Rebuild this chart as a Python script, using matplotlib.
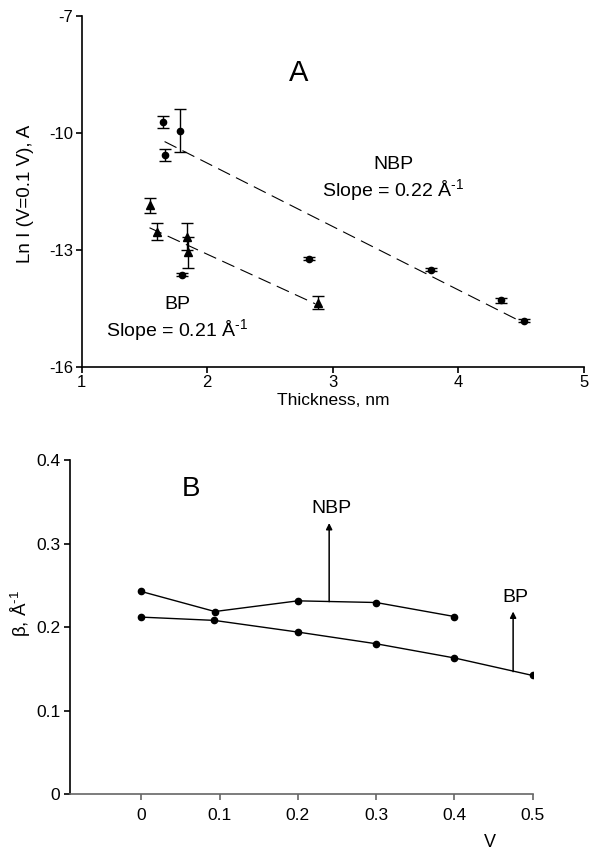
import matplotlib
matplotlib.use("Agg")
import matplotlib.pyplot as plt

plt.rcParams['font.family'] = ['Liberation Sans', 'DejaVu Sans']
plt.rcParams['axes.unicode_minus'] = False
plt.rcParams['mathtext.fontset'] = 'custom'
plt.rcParams['mathtext.rm'] = 'Liberation Sans'
plt.rcParams['mathtext.it'] = 'Liberation Sans'

# panel A: ln I at V=0.1 V versus film thickness
nbp_x = [1.65, 1.78, 1.66, 1.80, 2.81, 3.78, 4.34, 4.52]
nbp_y = [-9.71, -9.94, -10.56, -13.64, -13.22, -13.51, -14.29, -14.81]
nbp_err = [0.15, 0.55, 0.15, 0.04, 0.04, 0.04, 0.06, 0.04]

bp_x = [1.54, 1.60, 1.84, 1.85, 2.88]
bp_y = [-11.85, -12.53, -12.66, -13.06, -14.35]
bp_err = [0.19, 0.21, 0.35, 0.40, 0.17]

nbp_fit_x = [1.66, 4.47]
nbp_fit_y = [-10.22, -14.79]
bp_fit_x = [1.54, 2.86]
bp_fit_y = [-12.43, -14.38]

# panel B: beta versus bias
v_nbp = [0.0, 0.094, 0.2, 0.3, 0.4]
beta_nbp = [0.2426, 0.2186, 0.2314, 0.2294, 0.2126]
v_bp = [0.0, 0.093, 0.2, 0.3, 0.4, 0.5]
beta_bp = [0.2119, 0.208, 0.194, 0.180, 0.163, 0.142]

inv_a = r'Å$^{\text{-1}}$'

fig = plt.figure(figsize=(5.89, 8.55), dpi=100)

# ---- panel A
ax = fig.add_axes([0.1387, 0.5708, 0.8528, 0.4105])
ax.errorbar(nbp_x, nbp_y, yerr=nbp_err, fmt='o', color='black', ms=4.5,
            capsize=4, elinewidth=1, capthick=1)
ax.errorbar(bp_x, bp_y, yerr=bp_err, fmt='^', color='black', ms=5.5,
            capsize=4, elinewidth=1, capthick=1)
ax.plot(nbp_fit_x, nbp_fit_y, color='black', lw=0.8, linestyle=(0, (12, 6)))
ax.plot(bp_fit_x, bp_fit_y, color='black', lw=0.8, linestyle=(0, (12, 6)))

ax.set_xlim(1, 5)
ax.set_ylim(-16, -7)
ax.set_xticks([1, 2, 3, 4, 5])
ax.set_yticks([-16, -13, -10, -7])
for s in ['top', 'right']:
    ax.spines[s].set_visible(False)
for s in ['left', 'bottom']:
    ax.spines[s].set_linewidth(1.2)
ax.tick_params(direction='out', length=4, width=1.2, labelsize=12, pad=2)
ax.text(2.73, -8.46, 'A', fontsize=21, ha='center', va='center')
ax.text(3.48, -10.82, 'NBP', fontsize=14, ha='center', va='center')
ax.text(3.48, -11.46, 'Slope = 0.22 ' + inv_a, fontsize=14, ha='center', va='center')
ax.text(1.76, -14.41, 'BP', fontsize=14, ha='center', va='center')
ax.text(1.76, -15.05, 'Slope = 0.21 ' + inv_a, fontsize=14, ha='center', va='center')
fig.text(25 / 589, 1 - 194 / 855, 'Ln I (V=0.1 V), A', rotation=90,
         fontsize=13.5, ha='center', va='center')
fig.text(333 / 589, 1 - 400 / 855, 'Thickness, nm', fontsize=12.5,
         ha='center', va='center')

# ---- panel B
bx = fig.add_axes([0.1188, 0.0713, 0.7856, 0.3906])
bx.plot(v_nbp, beta_nbp, 'o-', color='black', ms=4.5, lw=1)
bx.plot(v_bp, beta_bp, 'o-', color='black', ms=4.5, lw=1)
bx.set_xlim(-0.0911, 0.5)
bx.set_ylim(0, 0.4)
bx.set_xticks([0, 0.1, 0.2, 0.3, 0.4, 0.5])
bx.set_xticklabels(['0', '0.1', '0.2', '0.3', '0.4', '0.5'])
bx.set_yticks([0, 0.1, 0.2, 0.3, 0.4])
bx.set_yticklabels(['0', '0.1', '0.2', '0.3', '0.4'])
for s in ['top', 'right']:
    bx.spines[s].set_visible(False)
bx.spines['left'].set_linewidth(1.2)
bx.spines['bottom'].set_linewidth(1.2)
bx.spines['bottom'].set_color('#666666')
bx.tick_params(direction='out', length=4, width=1.2, labelsize=12.5, pad=3)
bx.tick_params(axis='x', color='#666666', pad=6)

arrow = dict(arrowstyle='-|>', color='black', lw=1.1, mutation_scale=9,
             shrinkA=0, shrinkB=0)
bx.annotate('', xy=(0.24, 0.3246), xytext=(0.24, 0.2304), arrowprops=arrow)
bx.annotate('', xy=(0.475, 0.2186), xytext=(0.475, 0.1466), arrowprops=arrow)
bx.text(0.2423, 0.3417, 'NBP', fontsize=14, ha='center', va='center')
bx.text(0.4774, 0.2354, 'BP', fontsize=14, ha='center', va='center')
bx.text(0.063, 0.3655, 'B', fontsize=20, ha='center', va='center')

fig.text(21 / 589, 1 - 613 / 855, 'β, ' + inv_a, rotation=90,
         fontsize=13.5, ha='center', va='center')
fig.text(490 / 589, 1 - 842 / 855, 'V', fontsize=13, ha='center', va='center')

fig.savefig('out.png', dpi=100)
